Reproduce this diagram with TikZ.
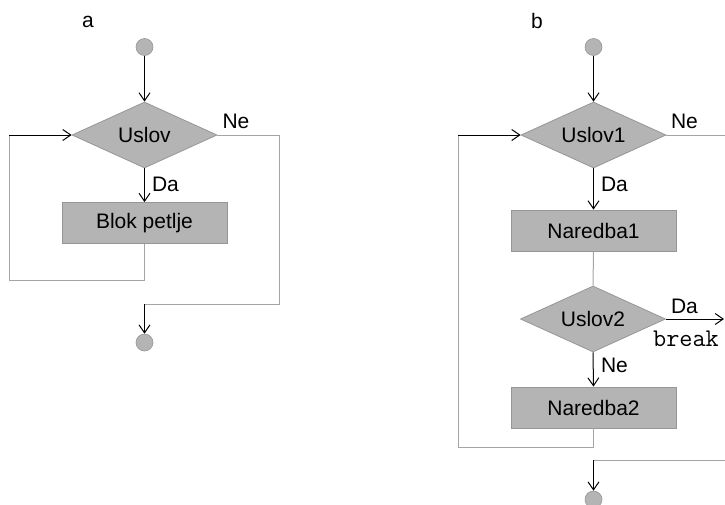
\documentclass[tikz,border=0pt]{standalone}
\usepackage{fontspec}
\setmainfont{Liberation Sans}
\usetikzlibrary{shapes.geometric,arrows.meta}
\definecolor{boxfill}{RGB}{180,180,180}
\definecolor{boxedge}{RGB}{150,150,150}
\definecolor{wirecol}{RGB}{165,165,165}

\begin{document}
\begin{tikzpicture}[x=1pt,y=-1pt,
  txt/.style={font=\fontsize{21}{25}\selectfont},
  cond/.style={diamond,aspect=2.2,inner sep=0pt,minimum width=145pt,minimum height=66pt,
    fill=boxfill,draw=boxedge,line width=0.8pt,txt},
  block/.style={rectangle,inner sep=0pt,minimum width=165pt,minimum height=41pt,
    fill=boxfill,draw=boxedge,line width=0.8pt,txt},
  term/.style={circle,inner sep=0pt,minimum size=17pt,fill=boxfill,draw=boxedge,line width=0.6pt},
  flow/.style={draw=black,line width=1pt,-{Straight Barb[length=8pt,width=11pt]}},
  wire/.style={draw=wirecol,line width=1pt},
  lbl/.style={txt,inner sep=0pt},
  code/.style={inner sep=0pt,font=\ttfamily\fontsize{25.5}{29}\selectfont},
]
\useasboundingbox (0,0) rectangle (725,504);

% ---------- (a) while loop ----------
\node[lbl] (tagA) at (88,22) {a};
\node[term] (startA) at (144.5,47) {};
\node[cond] (condA) at (144.5,135) {Uslov};
\node[block] (bodyA) at (144.5,223) {Blok petlje};
\node[term] (endA) at (144.5,342.5) {};

\coordinate (loopA1) at (144.5,280);
\coordinate (loopA2) at (9,280);
\coordinate (loopA3) at (9,135);
\coordinate (exitA1) at (279,135);
\coordinate (exitA2) at (279,304);
\coordinate (exitA3) at (144.5,304);

\draw[flow] (startA) -- (condA.north);
\draw[flow] (condA.south) -- (bodyA.north);
\draw[wire] (bodyA.south) -- (loopA1) -- (loopA2) -- (loopA3);
\draw[flow] (loopA3) -- (condA.west);
\draw[wire] (condA.east) -- (exitA1) -- (exitA2) -- (exitA3);
\draw[flow] (exitA3) -- (endA.north);

\node[lbl] (daA) at (165.5,184.5) {Da};
\node[lbl] (neA) at (236,121.5) {Ne};

% ---------- (b) loop with break ----------
\node[lbl] (tagB) at (537,21) {b};
\node[term] (startB) at (593.5,47) {};
\node[cond] (condB1) at (593.5,135) {Uslov1};
\node[block] (stmtB1) at (593.5,230.5) {Naredba1};
\node[cond] (condB2) at (593,319) {Uslov2};
\node[block] (stmtB2) at (593.5,407.5) {Naredba2};
\node[term] (endB) at (593.5,499.5) {};

\coordinate (loopB1) at (593.5,447);
\coordinate (loopB2) at (458,447);
\coordinate (loopB3) at (458,135);
\coordinate (exitB) at (725,135);
\coordinate (breakB) at (724,319);
\coordinate (joinB1) at (725,460);
\coordinate (joinB2) at (593.5,460);

\draw[flow] (startB) -- (condB1.north);
\draw[flow] (condB1.south) -- (stmtB1.north);
\draw[wire] (stmtB1.south) -- (condB2.north);
\draw[flow] (condB2.east) -- (breakB);
\draw[flow] (condB2.south) -- (stmtB2.north);
\draw[wire] (stmtB2.south) -- (loopB1) -- (loopB2) -- (loopB3);
\draw[flow] (loopB3) -- (condB1.west);
\draw[wire] (condB1.east) -- (exitB);
\draw[wire] (joinB1) -- (joinB2);
\draw[flow] (joinB2) -- (endB.north);

\node[lbl] (daB1) at (614.5,184.5) {Da};
\node[lbl] (neB1) at (684.5,121.5) {Ne};
\node[lbl] (daB2) at (684.5,306) {Da};
\node[code,anchor=base west] (brk) at (653,346) {break};
\node[lbl] (neB2) at (614.5,365) {Ne};
\end{tikzpicture}
\end{document}
